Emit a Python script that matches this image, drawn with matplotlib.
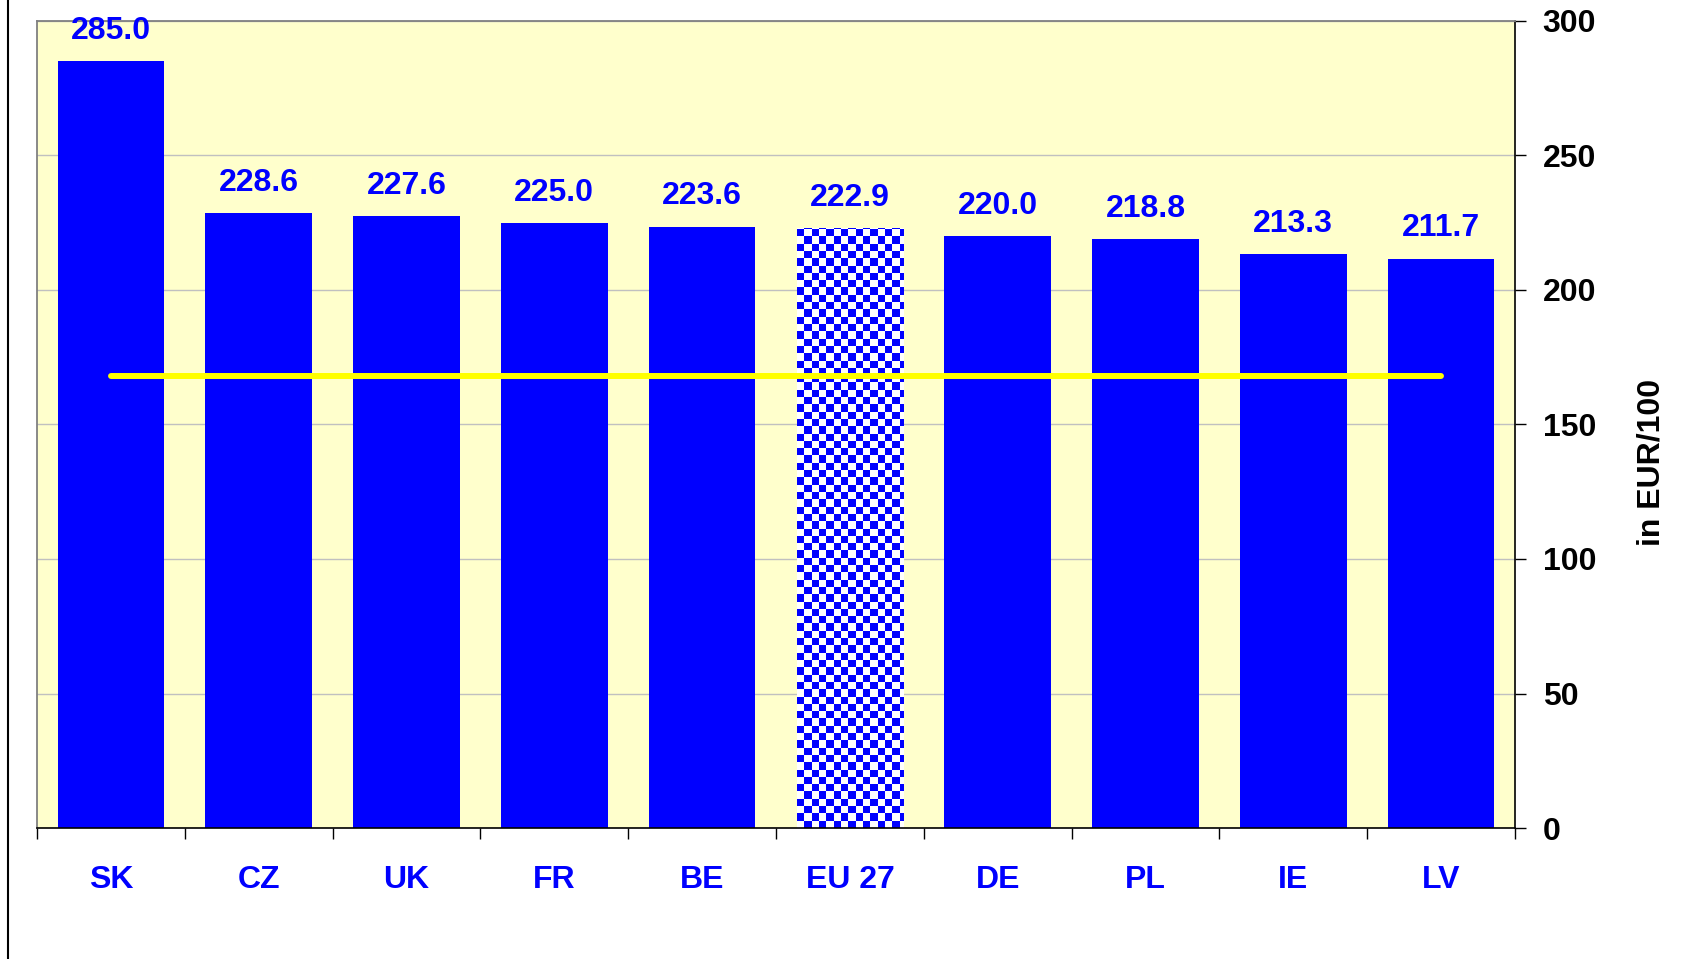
import numpy as np
import matplotlib
matplotlib.use("Agg")
import matplotlib.pyplot as plt
from matplotlib.colors import ListedColormap
from matplotlib.lines import Line2D
from matplotlib.transforms import Bbox, TransformedBbox

plt.rcParams['font.family'] = ['Liberation Sans', 'DejaVu Sans']

categories = ["SK", "CZ", "UK", "FR", "BE", "EU 27", "DE", "PL", "IE", "LV"]
values = [285.0, 228.6, 227.6, 225.0, 223.6, 222.9, 220.0, 218.8, 213.3, 211.7]
value_labels = ["285.0", "228.6", "227.6", "225.0", "223.6", "222.9", "220.0", "218.8", "213.3", "211.7"]
highlight = "EU 27"
reference_level = 168.0
y_ticks = [0, 50, 100, 150, 200, 250, 300]
y_label = "in EUR/100"

W, H = 1695, 959
fig = plt.figure(figsize=(W / 100, H / 100), dpi=100)
ax = fig.add_axes([37 / W, 1 - 828 / H, (1515 - 37) / W, (828 - 21) / H])
ax.set_facecolor('#FFFFCC')

x = np.arange(len(categories))
bw = 0.72
colors = ['white' if c == highlight else '#0000FF' for c in categories]
bars = ax.bar(x, values, width=bw, color=colors, zorder=2, linewidth=0)

ax.set_xlim(-0.5, len(categories) - 0.5)
ax.set_ylim(0, 300)

# checkerboard pattern for the highlighted bar
cell_px = 7.3
px_per_x = (1515 - 37) / len(categories)
px_per_y = (828 - 21) / 300
for b, c in zip(bars, categories):
    if c != highlight:
        continue
    x0 = b.get_x()
    bh = b.get_height()
    dx = cell_px / px_per_x
    dy = cell_px / px_per_y
    nx = int(np.ceil(bw / dx)) + 1
    ny = int(np.ceil(bh / dy)) + 1
    ii, jj = np.indices((ny, nx))
    board = ((ii + jj) % 2).astype(float)
    im = ax.imshow(board, cmap=ListedColormap(['white', '#0000FF']),
                   extent=[x0, x0 + nx * dx, 0, ny * dy], origin='lower',
                   interpolation='nearest', aspect='auto', zorder=2.5)
    im.set_clip_path(b)

ax.set_xlim(-0.5, len(categories) - 0.5)
ax.set_ylim(0, 300)

# reference line
ax.plot([x[0], x[-1]], [reference_level, reference_level], color='#FFFF00',
        lw=4.3, solid_capstyle='round', zorder=4)

# value labels
for xi, v, lab in zip(x, values, value_labels):
    ax.annotate(lab, (xi, v), xytext=(0, 16), textcoords='offset points',
                ha='center', va='baseline', fontsize=23, fontweight='bold',
                color='#0000FF', zorder=5)

# x axis
ax.set_xticks(np.arange(-0.5, len(categories), 1))
ax.set_xticklabels([])
ax.set_xticks(x, categories, minor=True)
ax.tick_params(axis='x', which='major', direction='out', length=8, width=1, color='black')
ax.tick_params(axis='x', which='minor', length=0, pad=27, labelsize=23, labelcolor='#0000FF')
for t in ax.get_xticklabels(minor=True):
    t.set_fontweight('bold')

# y axis on right
ax.yaxis.tick_right()
ax.set_yticks(y_ticks)
ax.tick_params(axis='y', direction='out', length=8, width=1, pad=12,
               labelsize=23, labelcolor='black', left=False)
for t in ax.get_yticklabels():
    t.set_fontweight('bold')

ax.yaxis.grid(True, color='#C0C0C0', lw=1)
ax.set_axisbelow(True)

for s in ['top', 'left']:
    ax.spines[s].set_color('#808080')
    ax.spines[s].set_linewidth(1.3)
for s in ['right', 'bottom']:
    ax.spines[s].set_color('black')
    ax.spines[s].set_linewidth(1.2)

# y label
yl = fig.text(1659 / W, 1 - 546 / H, y_label, rotation=90, rotation_mode='anchor',
              ha='left', va='baseline', fontsize=23, fontweight='bold', color='black')

# figure frame line on the left
fig.add_artist(Line2D([8 / W, 8 / W], [0, 1], color='black', lw=1.5,
                      transform=fig.transFigure))

fig.savefig('out.png', dpi=100)
